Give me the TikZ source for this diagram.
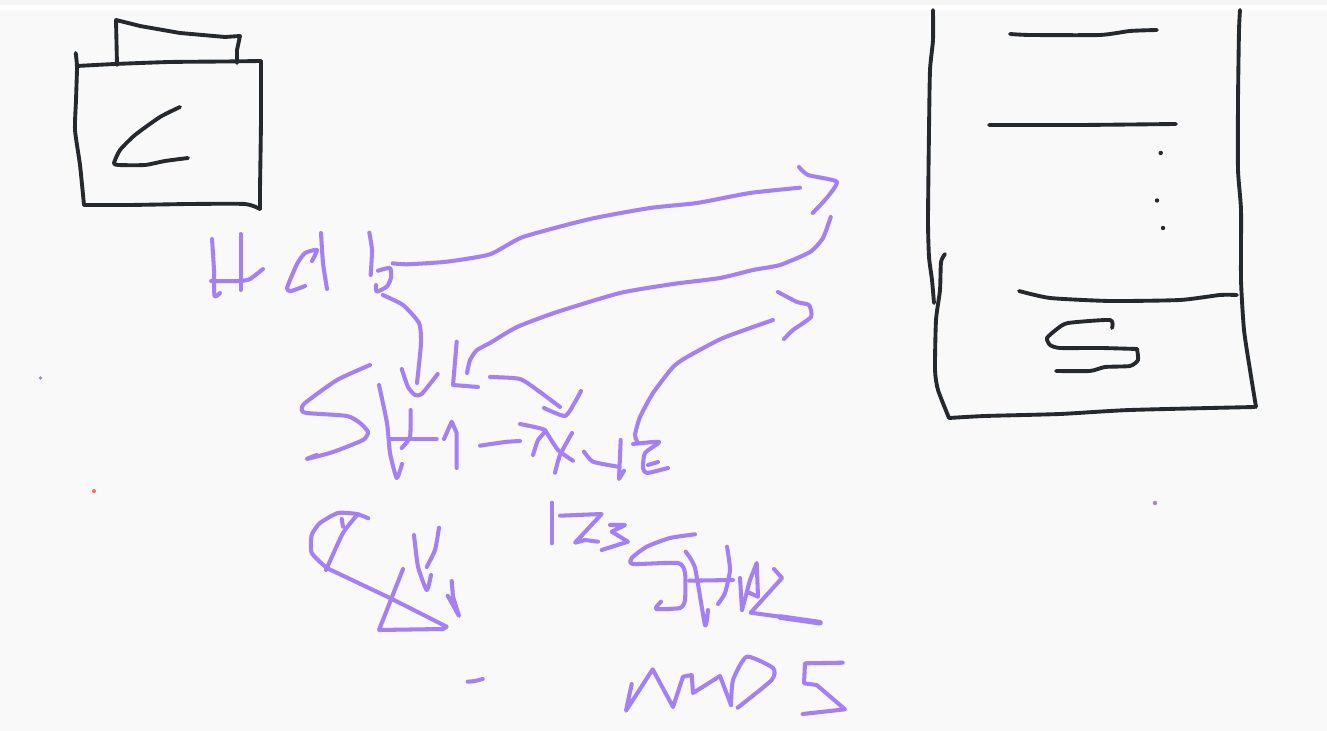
\documentclass[tikz,border=0pt]{standalone}
\definecolor{paperbg}{HTML}{F9F9F9}
\definecolor{inkblack}{HTML}{25292E}
\definecolor{inkviolet}{HTML}{A47FFB}
\tikzset{
  blackstroke/.style={draw=inkblack, line width=1.1pt, line cap=round, line join=round},
  violetstroke/.style={draw=inkviolet, line width=1.15pt, line cap=round, line join=round},
  ink/.style={smooth, tension=0.35}
}
\begin{document}
\begin{tikzpicture}[x=0.01cm, y=-0.01cm]
  % ---- Paper ----
  \useasboundingbox (0,0) rectangle (1327,731);
  \fill[white] (0,0) rectangle (1327,731);
  \fill[paperbg] (0,10) rectangle (1327,731);
  \fill[gray!8] (0,0) rectangle (1327,5);

  % ---- Left panel: folder ----
  \draw[blackstroke] plot[ink] coordinates {(75.7,53) (77,67) (76,100) (75,130) (80,165) (84,205)};
  \draw[blackstroke] plot[ink] coordinates {(84,205) (130,205) (190,204) (245,204) (260,209)};
  \draw[blackstroke] plot[ink] coordinates {(260,209) (260,190) (261,120) (261,61)};
  \draw[blackstroke] plot[ink] coordinates {(77,66) (115,64) (170,62) (225,61.5) (261,61)};
  \draw[blackstroke] (117,65) -- (116,20) -- (140,26) -- (180,33) -- (225,37) -- (240,36) -- (237,50) -- (237,63);
  \draw[blackstroke] plot[ink] coordinates {(180,107) (160,117) (135,135) (120,150) (114,163) (118,165) (145,165) (165,161) (188,158)};

  % ---- Right panel: tall box ----
  \draw[blackstroke] plot[ink] coordinates {(933,10) (933,40) (930,70) (929,130) (928,220) (929,257) (932,280) (934,303)};
  \draw[blackstroke] plot[ink] coordinates {(945,254) (941,262) (940,290) (936,320) (935,370) (938,390) (949,418)};
  \draw[blackstroke] plot[ink] coordinates {(949,418) (985,416) (1060,414) (1130,410) (1255,407)};
  \draw[blackstroke] plot[ink] coordinates {(1240,10) (1239,30) (1238,100) (1238,170) (1241,210) (1241,280) (1244,330) (1250,370) (1256,407)};
  \draw[blackstroke] plot[ink] coordinates {(1010,34) (1030,35) (1100,35) (1130,31) (1157,30)};
  \draw[blackstroke] plot[ink] coordinates {(989,125) (1080,125) (1176,124)};
  \draw[blackstroke] plot[ink] coordinates {(1019,291) (1050,298) (1110,301) (1180,300) (1220,295) (1237,295)};
  \draw[blackstroke] plot[ink] coordinates {(1112,328) (1110,320) (1068,323) (1057,329) (1047,338) (1050,345) (1060,348) (1100,348) (1137,349)};
  \draw[blackstroke] plot[ink] coordinates {(1137,349) (1138,360) (1130,366) (1105,367) (1090,371) (1056,371)};
  \foreach \x/\y in {1160.7/153, 1157/200.5, 1163/228} {\fill[inkblack] (\x,\y) circle (2.2);}

  % ---- First row of marks ----
  \draw[violetstroke] plot[ink] coordinates {(212,239) (214,270) (214.5,296) (220,293)};
  \draw[violetstroke] plot[ink] coordinates {(211,281) (240,281) (250,279) (263,269)};
  \draw[violetstroke] (240.7,234) -- (240.7,290);
  \draw[violetstroke] plot[ink] coordinates {(312,261) (317,250) (305,253) (297,264) (287,288) (291,291) (305,286)};
  \draw[violetstroke] plot[ink] coordinates {(321,233) (323,263) (327,289)};
  \draw[violetstroke] plot[ink] coordinates {(369.3,232.7) (372,250) (370.7,275)};
  \draw[violetstroke] plot[ink] coordinates {(378,270.7) (390,268) (391,278) (386.7,286.7) (376.7,291.7) (376,285)};

  % ---- Long arrows to the right ----
  \draw[violetstroke] plot[ink] coordinates {(392.7,263.3) (406.7,264.3) (446.7,261.7) (490,254.3) (523,237) (590,219) (650,208) (697,203) (750,193) (800,187.7)};
  \draw[violetstroke] plot[ink] coordinates {(799,167) (808,175) (836.7,181.7) (826.7,198) (812.7,213)};
  \draw[violetstroke] plot[ink] coordinates {(830.7,217) (823,238) (810,252) (780,265) (753,270) (720,278) (673,284) (620,293) (557,312) (517,327) (490,343) (477,350) (470,360) (467,373)};
  \draw[violetstroke] plot[ink] coordinates {(773,320) (723,338) (687,357) (673,367) (653,393) (640,417) (635,435) (638,443)};
  \draw[violetstroke] plot[ink] coordinates {(778,292) (797,302) (809,305) (811,317) (793,330) (784,339)};

  % ---- Short arrows ----
  \draw[violetstroke] plot[ink] coordinates {(382.7,295) (403,305) (419,323) (421,343) (417,383)};
  \draw[violetstroke] plot[ink] coordinates {(401.7,369) (408,387) (415,395) (421.7,394) (437.7,374)};
  \draw[violetstroke] (456.7,341.7) -- (453,385) -- (478,387);
  \draw[violetstroke] plot[ink] coordinates {(490,377) (520,379) (540,392) (560,407)};
  \draw[violetstroke] plot[ink] coordinates {(544,408) (565,416) (575,402) (581,391)};

  % ---- Second row of marks ----
  \draw[violetstroke] plot[ink] coordinates {(370,365) (337,380) (305,403) (301.7,410) (306.7,413) (347,416) (360,423) (368,432) (363,440) (333,452) (306.7,459) (316.7,455)};
  \draw[violetstroke] plot[ink] coordinates {(379,385) (387,423) (390,453) (396.7,478) (402,464)};
  \draw[violetstroke] (389,439) -- (436.7,439);
  \draw[violetstroke] plot[ink] coordinates {(410.7,410) (410,437) (401.7,448)};
  \draw[violetstroke] (444,439) -- (451.7,421.7) -- (456.7,433) -- (456.7,468);
  \draw[violetstroke] plot[ink] coordinates {(480,445.7) (505,442) (520,441)};
  \draw[violetstroke] plot[ink] coordinates {(520,424) (545,430) (538,440) (533,455)};
  \draw[violetstroke] plot[ink] coordinates {(545,430) (558,450) (573,460.7)};
  \draw[violetstroke] plot[ink] coordinates {(572,433) (560,455) (555,472.7)};
  \draw[violetstroke] plot[ink] coordinates {(584,451.7) (593,461.7) (618,466.7)};
  \draw[violetstroke] (620.7,440) -- (619,479) -- (624,470.7);
  \draw[violetstroke] plot[ink] coordinates {(633,444) (659,442) (645,453) (643,468) (647,473) (668,468)};
  \draw[violetstroke] (648,465) -- (658,462);

  % ---- Third row of marks ----
  \draw[violetstroke] (551.7,502.7) -- (551.7,543.3);
  \draw[violetstroke] (560,515.7) -- (601.7,514) -- (575,542.7) -- (585,540) -- (598,541.7);
  \draw[violetstroke] (610,525) -- (625,525) -- (611.7,531.7) -- (628,541.7) -- (601.7,550);
  \draw[violetstroke] plot[ink] coordinates {(695,534.3) (670,538) (646.7,546.7) (631.7,558) (633,564) (678,563) (685,573) (685,600) (680,608) (656,609) (661,601.7)};
  \draw[violetstroke] plot[ink] coordinates {(685.7,551.7) (695,568) (705,625) (708,610)};
  \draw[violetstroke] plot[ink] coordinates {(689,580.7) (733,580)};
  \draw[violetstroke] plot[ink] coordinates {(727,546.7) (730,570) (725,593) (718,604)};
  \draw[violetstroke] plot[ink] coordinates {(742,610) (740,578)};
  \draw[violetstroke] (742,610) -- (750,580) -- (756.7,563) -- (758,596.7) -- (746.7,591.7);
  \draw[violetstroke] (774,569) -- (782,578) -- (750.7,612.7) -- (780,616.7) -- (820,622.7);
  \draw[violetstroke, line width=1.6pt] (780,617) -- (820,622.7);

  % ---- Triangle and down strokes ----
  \draw[violetstroke] plot[ink] coordinates {(368.3,518.3) (356.7,514) (338,513) (320,523) (311.7,535) (311.7,553) (326.7,568)};
  \draw[violetstroke] (326.7,568) -- (390,598) -- (446.7,626.7) -- (443,629) -- (379,630) -- (403,569);
  \draw[violetstroke] plot[ink] coordinates {(358,514) (343,533) (326,570)};
  \draw[violetstroke] plot[ink] coordinates {(341.7,519) (343,526.7)};
  \draw[violetstroke] plot[ink] coordinates {(414,535) (418,566.7) (426.7,590) (431,575)};
  \draw[violetstroke] plot[ink] coordinates {(439,527.7) (435,550) (426.7,567)};
  \draw[violetstroke] (451.7,581) -- (453,596.7) -- (459,616) -- (447.7,595.7);
  \draw[violetstroke] plot[ink] coordinates {(467.7,681.7) (475,681) (482.7,679)};

  % ---- Bottom row of marks ----
  \draw[violetstroke] (631.7,684) -- (626,710.7) -- (652.7,669.3) -- (673,707) -- (683,676.7) -- (691.7,675) -- (693,693) -- (720,676) -- (731,705);
  \draw[violetstroke] plot[ink] coordinates {(731,705) (733,680) (746.7,656.7) (773,668) (771.7,680) (737.7,707.7)};
  \draw[violetstroke] (842.7,662.7) -- (805,663.3) -- (804,683.3) -- (816.7,685) -- (845,709.3) -- (802.7,714);

  % ---- Stray specks ----
  \fill[inkviolet] (40.5,378) circle (1.9);
  \fill[red!60] (94,491) circle (2);
  \fill[inkviolet] (1155,503) circle (2.2);
\end{tikzpicture}
\end{document}
